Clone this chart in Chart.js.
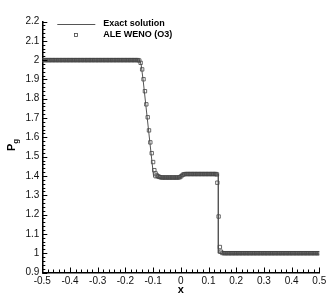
<!DOCTYPE html>
<html>
<head>
<meta charset="utf-8">
<script src="https://cdn.jsdelivr.net/npm/chart.js@4.4.1/dist/chart.umd.min.js"></script>
<style>
  html, body { margin: 0; padding: 0; background: #fff; }
  #wrap { width: 332px; height: 296px; }
</style>
</head>
<body>
<div id="wrap"><canvas id="pgChart" width="332" height="296"></canvas></div>
<script>
// Exact solution (corner points of the piecewise profile)
const exactX = [-0.5, -0.149, -0.143, -0.136, -0.098, -0.096, 0, 0, 0.1355, 0.1355, 0.5];
const exactP = [2, 2, 1.975, 1.896, 1.394, 1.39, 1.39, 1.41, 1.41, 1, 1];

// ALE WENO (O3) cell values
const wenoX = [
  -0.5, -0.495, -0.49, -0.485, -0.48, -0.475, -0.47, -0.465, -0.46, -0.455,
  -0.45, -0.445, -0.44, -0.435, -0.43, -0.425, -0.42, -0.415, -0.41, -0.405,
  -0.4, -0.395, -0.39, -0.385, -0.38, -0.375, -0.37, -0.365, -0.36, -0.355,
  -0.35, -0.345, -0.34, -0.335, -0.33, -0.325, -0.32, -0.315, -0.31, -0.305,
  -0.3, -0.295, -0.29, -0.285, -0.28, -0.275, -0.27, -0.265, -0.26, -0.255,
  -0.25, -0.245, -0.24, -0.235, -0.23, -0.225, -0.22, -0.215, -0.21, -0.205,
  -0.2, -0.195, -0.19, -0.185, -0.18, -0.175, -0.17, -0.165, -0.16, -0.155,
  -0.15, -0.145, -0.1395, -0.1345, -0.1295, -0.1245, -0.1195, -0.1148, -0.11, -0.105,
  -0.1, -0.0955, -0.091, -0.0865, -0.082, -0.0775, -0.073, -0.068, -0.063, -0.058,
  -0.053, -0.048, -0.043, -0.038, -0.033, -0.028, -0.023, -0.018, -0.013, -0.008,
  -0.003, 0.002, 0.007, 0.012, 0.017, 0.022, 0.027, 0.032, 0.037, 0.042,
  0.047, 0.052, 0.057, 0.062, 0.067, 0.072, 0.077, 0.082, 0.087, 0.092,
  0.097, 0.102, 0.107, 0.112, 0.117, 0.122, 0.127, 0.1305, 0.132, 0.1365,
  0.141, 0.1445, 0.15, 0.155, 0.16, 0.165, 0.17, 0.175, 0.18, 0.185,
  0.19, 0.195, 0.2, 0.205, 0.21, 0.215, 0.22, 0.225, 0.23, 0.235,
  0.24, 0.245, 0.25, 0.255, 0.26, 0.265, 0.27, 0.275, 0.28, 0.285,
  0.29, 0.295, 0.3, 0.305, 0.31, 0.315, 0.32, 0.325, 0.33, 0.335,
  0.34, 0.345, 0.35, 0.355, 0.36, 0.365, 0.37, 0.375, 0.38, 0.385,
  0.39, 0.395, 0.4, 0.405, 0.41, 0.415, 0.42, 0.425, 0.43, 0.435,
  0.44, 0.445, 0.45, 0.455, 0.46, 0.465, 0.47, 0.475, 0.48, 0.485,
  0.49, 0.495, 0.5
];
const wenoP = [
  2, 2, 2, 2, 2, 2, 2, 2, 2, 2,
  2, 2, 2, 2, 2, 2, 2, 2, 2, 2,
  2, 2, 2, 2, 2, 2, 2, 2, 2, 2,
  2, 2, 2, 2, 2, 2, 2, 2, 2, 2,
  2, 2, 2, 2, 2, 2, 2, 2, 2, 2,
  2, 2, 2, 2, 2, 2, 2, 2, 2, 2,
  2, 2, 2, 2, 2, 2, 2, 2, 2, 2,
  1.998, 1.986, 1.952, 1.901, 1.839, 1.771, 1.704, 1.636, 1.574, 1.518,
  1.472, 1.43, 1.413, 1.403, 1.398, 1.395, 1.393, 1.392, 1.392, 1.392,
  1.392, 1.392, 1.392, 1.392, 1.392, 1.392, 1.392, 1.392, 1.392, 1.392,
  1.394, 1.399, 1.406, 1.409, 1.41, 1.41, 1.41, 1.41, 1.41, 1.41,
  1.41, 1.41, 1.41, 1.41, 1.41, 1.41, 1.41, 1.41, 1.41, 1.41,
  1.41, 1.41, 1.41, 1.41, 1.41, 1.41, 1.41, 1.408, 1.365, 1.19,
  1.032, 1.008, 1.001, 1, 1, 1, 1, 1, 1, 1,
  1, 1, 1, 1, 1, 1, 1, 1, 1, 1,
  1, 1, 1, 1, 1, 1, 1, 1, 1, 1,
  1, 1, 1, 1, 1, 1, 1, 1, 1, 1,
  1, 1, 1, 1, 1, 1, 1, 1, 1, 1,
  1, 1, 1, 1, 1, 1, 1, 1, 1, 1,
  1, 1, 1, 1, 1, 1, 1, 1, 1, 1,
  1, 1, 1
];

// Axis ranges and tick steps
const xRange = [-0.5, 0.5];
const yRange = [0.9, 2.2];
const majorStep = 0.1;
const minorStep = 0.02;

const FONT = '"Liberation Sans", Arial, Helvetica, sans-serif';
const fmt = v => String(Math.round(v * 10) / 10);

// Tecplot-like inward ticks (major + minor)
const tickMarks = {
  id: 'tickMarks',
  afterDraw(chart) {
    const { ctx, chartArea: area, scales } = chart;
    const xs = scales.x, ys = scales.y;
    ctx.save();
    ctx.strokeStyle = '#000';
    ctx.lineWidth = 1;
    const nMajor = Math.round(majorStep / minorStep);
    const nx = Math.round((xs.max - xs.min) / minorStep);
    for (let k = 0; k <= nx; k++) {
      const px = Math.round(xs.getPixelForValue(xs.min + k * minorStep)) + 0.5;
      const len = k % nMajor === 0 ? 5 : 3;
      ctx.beginPath();
      ctx.moveTo(px, area.bottom);
      ctx.lineTo(px, area.bottom - len);
      ctx.stroke();
    }
    const ny = Math.round((ys.max - ys.min) / minorStep);
    for (let k = 0; k <= ny; k++) {
      const py = Math.round(ys.getPixelForValue(ys.min + k * minorStep)) + 0.5;
      const len = k % nMajor === 0 ? 5 : 3;
      ctx.beginPath();
      ctx.moveTo(area.left, py);
      ctx.lineTo(area.left + len, py);
      ctx.stroke();
    }
    ctx.restore();
  }
};

// Axis titles: "x" below, "P" with subscript "g" on the left
const axisTitles = {
  id: 'axisTitles',
  afterDraw(chart) {
    const { ctx, chartArea: area } = chart;
    ctx.save();
    ctx.fillStyle = '#000';
    ctx.textAlign = 'center';
    ctx.textBaseline = 'middle';
    ctx.font = 'bold 11px ' + FONT;
    ctx.fillText('x', (area.left + area.right) / 2, area.bottom + 17);

    ctx.translate(12, (area.top + area.bottom) / 2);
    ctx.rotate(-Math.PI / 2);
    ctx.textAlign = 'left';
    ctx.font = 'bold 11px ' + FONT;
    const w = ctx.measureText('P').width;
    ctx.fillText('P', -4, 0);
    ctx.font = 'bold 8px ' + FONT;
    ctx.fillText('g', -4 + w, 3.5);
    ctx.restore();
  }
};

// Legend in the top-left corner of the plot
const cornerLegend = {
  id: 'cornerLegend',
  afterDraw(chart) {
    const { ctx, chartArea: area } = chart;
    const sets = chart.data.datasets;
    const x0 = area.left + 15, x1 = area.left + 53, tx = area.left + 61;
    const row = [area.top + 2.5, area.top + 13];
    ctx.save();
    ctx.font = 'bold 9px ' + FONT;
    ctx.fillStyle = '#000';
    ctx.textAlign = 'left';
    ctx.textBaseline = 'middle';

    ctx.strokeStyle = sets[0].borderColor;
    ctx.lineWidth = 1;
    ctx.beginPath();
    ctx.moveTo(x0, Math.round(row[0]) + 0.5);
    ctx.lineTo(x1, Math.round(row[0]) + 0.5);
    ctx.stroke();
    ctx.fillText(sets[0].label, tx, row[0]);

    ctx.strokeStyle = sets[1].borderColor;
    ctx.lineWidth = sets[1].borderWidth;
    ctx.strokeRect(Math.round((x0 + x1) / 2) - 1.5, Math.round(row[1]) - 1.5, 3, 3);
    ctx.fillText(sets[1].label, tx, row[1]);
    ctx.restore();
  }
};

new Chart(document.getElementById('pgChart'), {
  type: 'scatter',
  data: {
    datasets: [
      {
        label: 'Exact solution',
        data: exactX.map((x, i) => ({ x, y: exactP[i] })),
        showLine: true,
        borderColor: '#555',
        borderWidth: 1,
        pointRadius: 0,
        tension: 0,
        order: 2
      },
      {
        label: 'ALE WENO (O3)',
        data: wenoX.map((x, i) => ({ x, y: wenoP[i] })),
        showLine: false,
        pointStyle: 'rect',
        pointRadius: 2.4,
        borderColor: '#444',
        backgroundColor: 'rgba(0,0,0,0)',
        borderWidth: 0.8,
        order: 1
      }
    ]
  },
  options: {
    responsive: false,
    animation: false,
    devicePixelRatio: 1,
    layout: { padding: { top: 21.5, right: 12.7, left: 0, bottom: 0 } },
    plugins: {
      legend: { display: false },
      tooltip: { enabled: false }
    },
    scales: {
      x: {
        type: 'linear',
        min: xRange[0],
        max: xRange[1],
        afterFit: s => { s.height = 23.5; },
        grid: { display: false, drawTicks: false },
        border: { display: true, color: '#000', width: 1.5 },
        ticks: {
          stepSize: majorStep,
          autoSkip: false,
          maxRotation: 0,
          padding: 3,
          color: '#111',
          font: { family: FONT, size: 10 },
          callback: fmt
        }
      },
      y: {
        type: 'linear',
        min: yRange[0],
        max: yRange[1],
        afterFit: s => { s.width = 42.3; },
        grid: { display: false, drawTicks: false },
        border: { display: true, color: '#000', width: 1.5 },
        ticks: {
          stepSize: majorStep,
          autoSkip: false,
          padding: 3,
          color: '#111',
          font: { family: FONT, size: 10 },
          callback: fmt
        }
      }
    }
  },
  plugins: [tickMarks, axisTitles, cornerLegend]
});
</script>
</body>
</html>
